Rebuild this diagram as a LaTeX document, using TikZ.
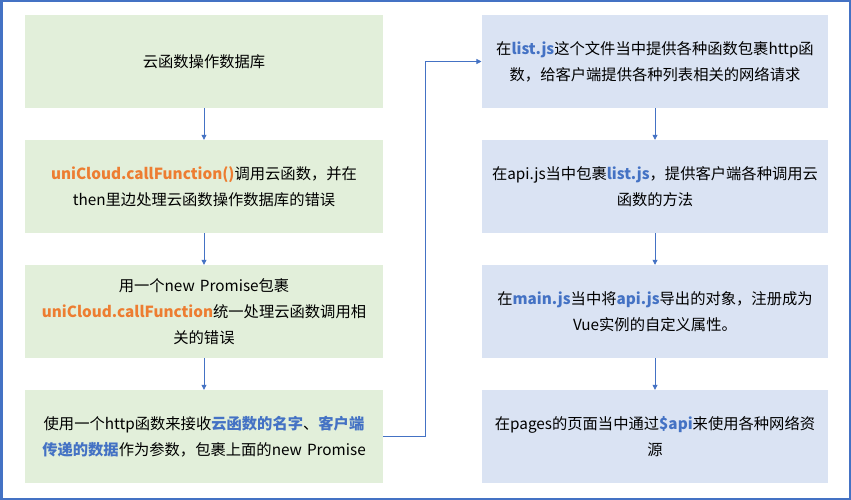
\documentclass[tikz,border=0pt]{standalone}
\usepackage{fontspec}
\setmainfont{Noto Sans CJK SC}
\usetikzlibrary{arrows.meta}
\definecolor{boxgreen}{HTML}{E2EFDA}
\definecolor{boxblue}{HTML}{DAE3F3}
\definecolor{linkblue}{HTML}{4472C4}
\definecolor{hiorange}{HTML}{ED7D31}
\newcommand{\hb}[1]{\textcolor{linkblue}{\textbf{#1}}}
\newcommand{\ho}[1]{\textcolor{hiorange}{\textbf{#1}}}
\tikzset{
    leftbox/.style={fill=boxgreen,minimum width=358pt,minimum height=93pt,text width=340pt,align=center,font=\fontsize{15.3}{26}\selectfont},
    rightbox/.style={fill=boxblue,minimum width=346pt,minimum height=93pt,text width=340pt,align=center,font=\fontsize{15.3}{26}\selectfont},
    flow/.style={-{Triangle[length=5pt,width=5pt]},linkblue,line width=0.8pt}
}
\begin{document}
\begin{tikzpicture}[x=1pt,y=-1pt]
        \useasboundingbox (0,0) rectangle (851,500);
        \draw [linkblue,line width=2.5pt,fill=white] (1.25,1.25) rectangle (849.75,498.75);
        % left column
        \node [leftbox] (l1) at (204,61.5) {云函数操作数据库};
        \node [leftbox] (l2) at (204,186.5) {\ho{uniCloud.callFunction()}调用云函数，并在\\then里边处理云函数操作数据库的错误};
        \node [leftbox] (l3) at (204,311.5) {用一个new Promise包裹\\\ho{uniCloud.callFunction}统一处理云函数调用相\\关的错误};
        \node [leftbox] (l4) at (204,436.5) {使用一个http函数来接收\hb{云函数的名字}、\hb{客户端}\\\hb{传递的数据}作为参数，包裹上面的new Promise};
        % right column
        \node [rightbox] (r1) at (655,61.5) {在\hb{list.js}这个文件当中提供各种函数包裹http函\\数，给客户端提供各种列表相关的网络请求};
        \node [rightbox] (r2) at (655,186.5) {在api.js当中包裹\hb{list.js}，提供客户端各种调用云\\函数的方法};
        \node [rightbox] (r3) at (655,311.5) {在\hb{main.js}当中将\hb{api.js}导出的对象，注册成为\\Vue实例的自定义属性。};
        \node [rightbox] (r4) at (655,436.5) {在pages的页面当中通过\hb{\$api}来使用各种网络资\\源};
        \draw [flow] (l1) -- (l2);
        \draw [flow] (l2) -- (l3);
        \draw [flow] (l3) -- (l4);
        \draw [flow] (l4.east) -- (425,436.5) |- (r1.west);
        \draw [flow] (r1) -- (r2);
        \draw [flow] (r2) -- (r3);
        \draw [flow] (r3) -- (r4);
\end{tikzpicture}
\end{document}
